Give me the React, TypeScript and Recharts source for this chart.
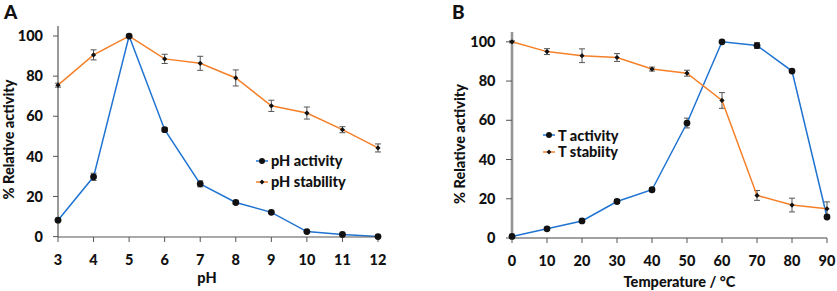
import React from 'react'
import { ErrorBar, Legend, Line, LineChart, XAxis, YAxis } from 'recharts'

// panel A - pH
const phValues = [3, 4, 5, 6, 7, 8, 9, 10, 11, 12]
const phActivity = [8.2, 29.8, 100, 53.3, 26.3, 17, 12.1, 2.5, 1.1, 0]
const phActivityErr = [0.6, 1.8, 0.5, 1, 1.5, 0.8, 0.6, 0.3, 0.3, 0.2]
const phStability = [75.5, 90.6, 100, 88.6, 86.4, 79.1, 65.2, 61.6, 53.3, 44.2]
const phStabilityErr = [1, 2.5, 0.5, 2.3, 3.5, 4, 2.8, 3, 1.5, 2]

// panel B - temperature
const tempValues = [0, 10, 20, 30, 40, 50, 60, 70, 80, 90]
const tActivity = [0.8, 4.7, 8.7, 18.6, 24.6, 58.6, 100, 98.1, 85.1, 10.7]
const tActivityErr = [0.3, 0.5, 0.7, 1, 1, 2.5, 0.5, 1.5, 0.8, 0.8]
const tStability = [100, 95, 92.9, 92, 86.1, 84, 70.1, 21.7, 16.8, 14.9]
const tStabilityErr = [0.5, 1.5, 3.5, 2, 1, 1.5, 4, 2.5, 3.5, 3.5]

const yTicks = [0, 20, 40, 60, 80, 100]

const phData = phValues.map((x, i) => ({
  x,
  act: phActivity[i],
  actErr: phActivityErr[i],
  stab: phStability[i],
  stabErr: phStabilityErr[i],
}))

const tData = tempValues.map((x, i) => ({
  x,
  act: tActivity[i],
  actErr: tActivityErr[i],
  stab: tStability[i],
  stabErr: tStabilityErr[i],
}))

const FONT = 'Lato, "DejaVu Sans", sans-serif'
const BLUE = '#1f74d2'
const ORANGE = '#f5802a'

const tickStyle = { fill: '#111', fontSize: 14.5, fontWeight: 900, fontFamily: FONT }

const circleDot = (p: any) => (
  <circle key={`c${p.index}`} cx={p.cx} cy={p.cy} r={3.4} fill='#111' />
)
const smallDot = (p: any) => (
  <path
    key={`d${p.index}`}
    d={`M${p.cx},${p.cy - 2.6}L${p.cx + 2.6},${p.cy}L${p.cx},${p.cy + 2.6}L${p.cx - 2.6},${p.cy}Z`}
    fill='#111'
  />
)

const YTitle = ({ cx, dy }: { cx: number; dy: number }) => (props: any) => {
  const vb = props.viewBox
  const cy = vb.y + vb.height / 2 + dy
  return (
    <text
      x={cx}
      y={cy}
      transform={`rotate(-90 ${cx} ${cy})`}
      textAnchor='middle'
      dominantBaseline='central'
      fill='#111'
      fontSize={14.5}
      fontWeight={900}
      fontFamily={FONT}
    >
      % Relative activity
    </text>
  )
}

const LegendBox = ({ rowH }: { rowH: number }) => (props: any) => (
  <div style={{ fontFamily: FONT, fontWeight: 900, fontSize: 14.5, color: '#111' }}>
    {props.payload.map((item: any, i: number) => (
      <div key={i} style={{ display: 'flex', alignItems: 'center', height: rowH, whiteSpace: 'nowrap' }}>
        <svg width={14} height={10} style={{ marginRight: 1 }}>
          <line x1={0} y1={5} x2={12} y2={5} stroke={item.color} strokeWidth={1.5} />
          {i === 0 ? (
            <circle cx={6} cy={5} r={3} fill='#111' />
          ) : (
            <path d='M6,2.6L8.4,5L6,7.4L3.6,5Z' fill='#111' />
          )}
        </svg>
        <span>{item.value}</span>
      </div>
    ))}
  </div>
)

const Panel = ({
  data,
  width,
  top,
  plotH,
  yWidth,
  right,
  xTicks,
  xTitle,
  titleDx,
  titleOffset,
  yTitleX,
  yTitleDy,
  yTick,
  yAxisLine,
  xAxisLine,
  legendPos,
  rowH,
  names,
}: any) => (
  <LineChart
    width={width}
    height={291}
    data={data}
    margin={{ top, right, bottom: 0, left: 0 }}
    style={{ overflow: 'visible' }}
  >
    <XAxis
      dataKey='x'
      type='number'
      domain={[xTicks[0], xTicks[xTicks.length - 1]]}
      ticks={xTicks}
      interval={0}
      height={291 - top - plotH}
      axisLine={xAxisLine}
      tickLine={{ stroke: '#555', strokeWidth: 1 }}
      tickSize={5}
      tickMargin={12.5}
      tick={tickStyle}
      label={{
        value: xTitle,
        position: 'insideBottom',
        offset: titleOffset,
        dx: titleDx,
        fill: '#111',
        fontSize: 14.5,
        fontWeight: 900,
        fontFamily: FONT,
      }}
    />
    <YAxis
      type='number'
      domain={[0, 105]}
      ticks={yTicks}
      width={yWidth}
      axisLine={yAxisLine}
      tickLine={{ stroke: '#555', strokeWidth: 1 }}
      tickSize={yTick[0]}
      tickMargin={yTick[1]}
      tick={tickStyle}
      label={YTitle({ cx: yTitleX, dy: yTitleDy })}
    />
    <Legend
      layout='vertical'
      verticalAlign='middle'
      align='center'
      content={LegendBox({ rowH })}
      wrapperStyle={{ position: 'absolute', left: legendPos[0], top: legendPos[1], width: 'auto', margin: 0 }}
    />
    <Line
      dataKey='act'
      name={names[0]}
      stroke={BLUE}
      strokeWidth={1.5}
      dot={circleDot}
      activeDot={false}
      isAnimationActive={false}
    >
      <ErrorBar dataKey='actErr' width={3} stroke='#555' strokeWidth={1} direction='y' isAnimationActive={false} />
    </Line>
    <Line
      dataKey='stab'
      name={names[1]}
      stroke={ORANGE}
      strokeWidth={1.5}
      dot={smallDot}
      activeDot={false}
      isAnimationActive={false}
    >
      <ErrorBar dataKey='stabErr' width={3} stroke='#555' strokeWidth={1} direction='y' isAnimationActive={false} />
    </Line>
  </LineChart>
)

const panelLetter: React.CSSProperties = {
  position: 'absolute',
  top: 0,
  fontFamily: FONT,
  fontWeight: 900,
  fontSize: 19,
  color: '#111',
}

export default function App() {
  return (
    <div style={{ position: 'absolute', left: 0, top: 0, width: 837, height: 291, background: '#fff' }}>
      <div style={{ position: 'absolute', left: 0, top: 0 }}>
        <Panel
          data={phData}
          width={420}
          top={26}
          plotH={211}
          yWidth={58}
          right={42}
          xTicks={phValues}
          xTitle='pH'
          titleDx={-11}
          titleOffset={8}
          yTitleX={8}
          yTitleDy={8}
          yTick={[5, 10]}
          yAxisLine={{ stroke: '#555', strokeWidth: 1.2 }}
          xAxisLine={{ stroke: '#555', strokeWidth: 1.2 }}
          legendPos={[256, 150]}
          rowH={21}
          names={['pH activity', 'pH stability']}
        />
      </div>
      <div style={{ position: 'absolute', left: 420, top: 0 }}>
        <Panel
          data={tData}
          width={417}
          top={32}
          plotH={206}
          yWidth={92}
          right={10}
          xTicks={tempValues}
          xTitle='Temperature / °C'
          titleDx={10}
          titleOffset={4}
          yTitleX={39}
          yTitleDy={9}
          yTick={[6, 10.5]}
          yAxisLine={{ stroke: '#959595', strokeWidth: 2.6 }}
          xAxisLine={{ stroke: '#444', strokeWidth: 1.2 }}
          legendPos={[123, 127]}
          rowH={16.5}
          names={['T activity', 'T stabiity']}
        />
      </div>
      <div style={{ ...panelLetter, left: 4 }}>A</div>
      <div style={{ ...panelLetter, left: 452 }}>B</div>
    </div>
  )
}
